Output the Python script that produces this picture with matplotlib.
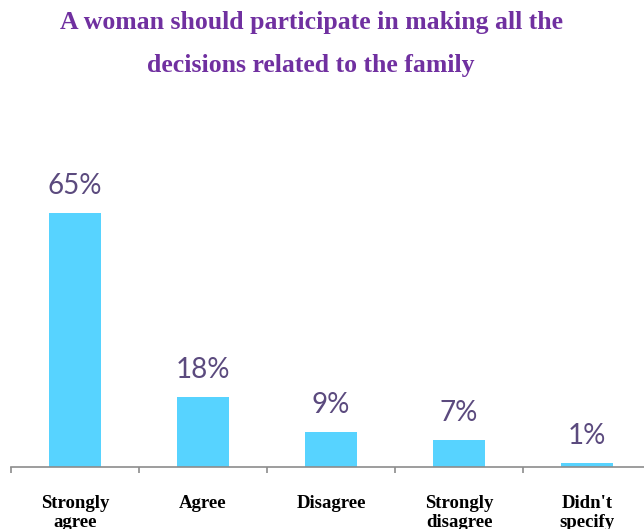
import matplotlib.pyplot as plt
import numpy as np

categories = ["Strongly\nagree", "Agree", "Disagree", "Strongly\ndisagree", "Didn't\nspecify"]
values = [65, 18, 9, 7, 1]
labels = ["65%", "18%", "9%", "7%", "1%"]

bar_color = "#57D3FF"
label_color = "#5B4A7E"
title_color = "#7030A0"

fig = plt.figure(figsize=(6.44, 5.29), dpi=100)
ax = fig.add_axes([0.0171, 0.117, 0.9938, 0.592])

x = np.arange(len(categories))
ax.bar(x, values, width=0.406, color=bar_color)
for xi, v, lab in zip(x, values, labels):
    ax.text(xi, v + 3.6, lab, ha="center", va="bottom", fontsize=20,
            family="Lato", color=label_color)

ax.set_xlim(-0.5, len(categories) - 0.5)
ax.set_ylim(0, 80)
ax.set_yticks([])
for side in ["top", "right", "left"]:
    ax.spines[side].set_visible(False)
ax.spines["bottom"].set_color("#8C8C8C")
ax.spines["bottom"].set_linewidth(1.2)

ax.set_xticks(x)
ax.set_xticklabels(categories, family="Liberation Serif", fontweight="bold",
                   fontsize=13.5, linespacing=1.2)
ax.tick_params(axis="x", which="major", length=0, pad=20)
ax.set_xticks(np.arange(len(categories) + 1) - 0.5, minor=True)
ax.tick_params(axis="x", which="minor", length=4, color="#8C8C8C", width=1.2)

fig.text(0.483, 0.957, "A woman should participate in making all the",
         ha="center", va="center", fontsize=18.5, fontweight="bold",
         family="Liberation Serif", color=title_color)
fig.text(0.483, 0.876, "decisions related to the family",
         ha="center", va="center", fontsize=18.5, fontweight="bold",
         family="Liberation Serif", color=title_color)

fig.savefig("out.png", dpi=100)
